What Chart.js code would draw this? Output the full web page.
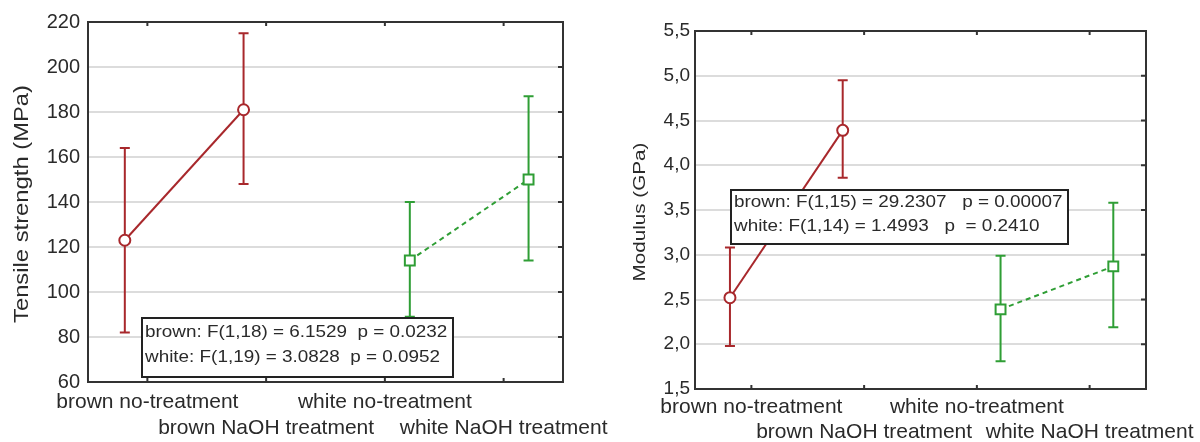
<!DOCTYPE html>
<html>
<head>
<meta charset="utf-8">
<script src="https://cdn.jsdelivr.net/npm/chart.js@4/dist/chart.umd.min.js"></script>
<style>
html, body { margin: 0; padding: 0; background: #fff; }
#wrap { position: relative; width: 1200px; height: 442px; }
.panel { position: absolute; top: 0; height: 442px; }
</style>
</head>
<body>
<div id="wrap">
  <div class="panel" style="left:620px;width:580px"><canvas id="modulus"></canvas></div>
  <div class="panel" style="left:0;width:630px"><canvas id="tensile"></canvas></div>
</div>
<script>
// data
const categories = ['brown no-treatment', 'brown NaOH treatment', 'white no-treatment', 'white NaOH treatment'];
const groups = ['brown', 'brown', 'white', 'white'];

const tensileMean = [123, 181, 114, 150];
const tensileLow  = [82, 148, 89, 114];
const tensileHigh = [164, 215, 140, 187];
const tensileStats = ['brown: F(1,18) = 6.1529  p = 0.0232', 'white: F(1,19) = 3.0828  p = 0.0952'];

const modulusMean = [2.52, 4.39, 2.39, 2.87];
const modulusLow  = [1.98, 3.86, 1.81, 2.19];
const modulusHigh = [3.08, 4.95, 2.99, 3.58];
const modulusStats = ['brown: F(1,15) = 29.2307   p = 0.00007', 'white: F(1,14) = 1.4993   p  = 0.2410'];

const BROWN = '#a8282c';
const GREEN = '#2f9e35';
const TEXT = '#2a2a2a';
const FONT = 'Liberation Sans, Arial, sans-serif';
// small horizontal shift of each group from the category centre (as in the original)
const shift = { brown: -0.19, white: 0.21 };

function fitText(ctx, txt, x, y, w, align) {
    const m = ctx.measureText(txt).width;
    const sx = w ? w / m : 1;
    ctx.save();
    ctx.translate(x, y);
    ctx.scale(sx, 1);
    ctx.textAlign = align;
    ctx.fillText(txt, 0, 0);
    ctx.restore();
}

function pointsFor(group, means) {
    const out = [];
    means.forEach((v, i) => {
        if (groups[i] === group) out.push({ x: i + 0.5 + shift[group], y: v, i: i });
    });
    return out;
}

function makeChart(id, cfg) {
    const decor = {
        id: 'decor',
        beforeDatasetsDraw(chart) {
            const ctx = chart.ctx, y = chart.scales.y;
            ctx.save();
            ctx.lineWidth = 2;
            chart.data.datasets.forEach((ds, di) => {
                const meta = chart.getDatasetMeta(di);
                ctx.strokeStyle = ds.borderColor;
                meta.data.forEach((pt, k) => {
                    const i = ds.data[k].i;
                    const top = y.getPixelForValue(cfg.high[i]);
                    const bot = y.getPixelForValue(cfg.low[i]);
                    ctx.beginPath();
                    ctx.moveTo(pt.x, top); ctx.lineTo(pt.x, bot);
                    ctx.moveTo(pt.x - 5, top); ctx.lineTo(pt.x + 5, top);
                    ctx.moveTo(pt.x - 5, bot); ctx.lineTo(pt.x + 5, bot);
                    ctx.stroke();
                });
            });
            ctx.restore();
        },
        afterDraw(chart) {
            const ctx = chart.ctx, a = chart.chartArea, xs = chart.scales.x, ys = chart.scales.y;
            ctx.save();
            // frame with inner ticks
            ctx.strokeStyle = '#333';
            ctx.lineWidth = 2;
            ctx.strokeRect(a.left, a.top, a.right - a.left, a.bottom - a.top);
            ctx.beginPath();
            categories.forEach((c, i) => {
                const px = xs.getPixelForValue(i + 0.5);
                ctx.moveTo(px, a.top); ctx.lineTo(px, a.top + 4);
                ctx.moveTo(px, a.bottom); ctx.lineTo(px, a.bottom - 4);
            });
            ys.ticks.forEach(t => {
                const py = ys.getPixelForValue(t.value);
                ctx.moveTo(a.right, py); ctx.lineTo(a.right - 5, py);
            });
            ctx.stroke();

            ctx.fillStyle = TEXT;
            ctx.textBaseline = 'middle';
            // category labels, staggered in two rows
            ctx.font = '21px ' + FONT;
            categories.forEach((c, i) => {
                const px = xs.getPixelForValue(i + 0.5);
                fitText(ctx, c, px, i % 2 ? cfg.row2 : cfg.row1, 0, 'center');
            });
            // axis title
            ctx.font = cfg.titleFont + 'px ' + FONT;
            ctx.save();
            ctx.translate(cfg.titleX, (a.top + a.bottom) / 2 + 2);
            ctx.rotate(-Math.PI / 2);
            fitText(ctx, cfg.title, 0, 0, cfg.titleLen, 'center');
            ctx.restore();
            // stats box
            const b = cfg.box;
            ctx.fillStyle = '#fff';
            ctx.fillRect(b.x, b.y, b.w, b.h);
            ctx.strokeStyle = '#222';
            ctx.lineWidth = 2;
            ctx.strokeRect(b.x, b.y, b.w, b.h);
            ctx.fillStyle = TEXT;
            ctx.font = '16px ' + FONT;
            cfg.stats.forEach((s, k) => {
                ctx.save();
                ctx.translate(b.x + 3, b.y + b.lineY[k]);
                ctx.scale(1.18, 1);
                ctx.textAlign = 'left';
                ctx.fillText(s, 0, 0);
                ctx.restore();
            });
            ctx.restore();
        }
    };

    return new Chart(document.getElementById(id), {
        type: 'line',
        data: {
            datasets: [{
                label: 'brown',
                data: pointsFor('brown', cfg.mean),
                borderColor: BROWN,
                borderWidth: 2,
                pointStyle: 'circle',
                pointRadius: 5.5,
                pointBorderWidth: 2,
                pointBackgroundColor: '#fff',
                tension: 0
            }, {
                label: 'white',
                data: pointsFor('white', cfg.mean),
                borderColor: GREEN,
                borderWidth: 2,
                borderDash: [5, 4],
                pointStyle: 'rect',
                pointRadius: 7,
                pointBorderWidth: 2,
                pointBackgroundColor: '#fff',
                tension: 0
            }]
        },
        options: {
            responsive: true,
            maintainAspectRatio: false,
            animation: false,
            layout: { padding: { top: cfg.padTop, right: cfg.padRight, left: 0, bottom: 0 } },
            plugins: { legend: { display: false }, tooltip: { enabled: false } },
            scales: {
                x: {
                    type: 'linear', min: 0, max: 4,
                    ticks: { display: false },
                    grid: { display: false },
                    border: { display: false },
                    afterFit: s => { s.height = cfg.xHeight; }
                },
                y: {
                    min: cfg.min, max: cfg.max,
                    ticks: {
                        stepSize: cfg.step,
                        color: TEXT,
                        padding: cfg.tickPad,
                        font: { family: FONT, size: cfg.tickFont },
                        callback: cfg.fmt
                    },
                    grid: { color: '#dcdcdc', lineWidth: 2, drawTicks: false },
                    border: { display: false },
                    afterFit: s => { s.width = cfg.yWidth; }
                }
            }
        },
        plugins: [decor]
    });
}

makeChart('tensile', {
    mean: tensileMean, low: tensileLow, high: tensileHigh, stats: tensileStats,
    min: 60, max: 220, step: 20,
    fmt: v => String(v),
    padTop: 22, padRight: 67, yWidth: 88, xHeight: 60,
    tickFont: 20, tickPad: 8,
    title: 'Tensile strength (MPa)', titleFont: 20, titleX: 22, titleLen: 238,
    row1: 402, row2: 428,
    box: { x: 142, y: 318, w: 311, h: 59, lineY: [15, 40] }
});

makeChart('modulus', {
    mean: modulusMean, low: modulusLow, high: modulusHigh, stats: modulusStats,
    min: 1.5, max: 5.5, step: 0.5,
    fmt: v => v.toFixed(1).replace('.', ','),
    padTop: 31, padRight: 54, yWidth: 75, xHeight: 53,
    tickFont: 19, tickPad: 5,
    title: 'Modulus (GPa)', titleFont: 17, titleX: 20, titleLen: 139,
    row1: 407, row2: 432,
    box: { x: 111, y: 190, w: 337, h: 54, lineY: [13, 37] }
});
</script>
</body>
</html>
